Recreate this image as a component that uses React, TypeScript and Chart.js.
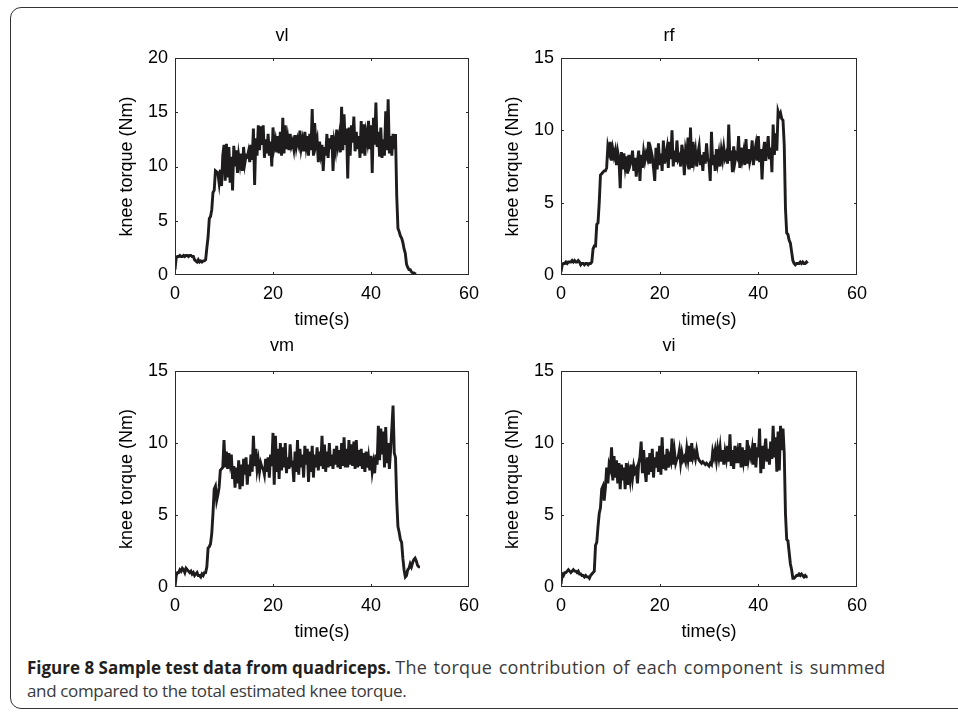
import React, { useEffect, useRef } from "react";
import { Chart, registerables } from "chart.js";

Chart.register(...registerables);

// sample spacing of the recorded torque traces (seconds)
const SAMPLE_STEP = 0.25;

const X_TICKS = [0, 20, 40, 60];
const Y_TICKS_VL = [0, 5, 10, 15, 20];
const Y_TICKS_OTHER = [0, 5, 10, 15];

const TITLES = ["vl", "rf", "vm", "vi"];
const X_LABEL = "time(s)";
const Y_LABEL = "knee torque (Nm)";

const VL = [
  0.5, 1.6, 1.7, 1.7, 1.8, 1.7, 1.7, 1.8, 1.7, 1.8, 1.8, 1.7, 1.8, 1.8, 1.7, 1.7,
  1.4, 1.3, 1.2, 1.4, 1.2, 1.3, 1.2, 1.3, 1.3, 1.4, 2.5, 3.5, 5.2, 5.4, 6.0, 7.6,
  7.8, 9.6, 9.5, 9.4, 8.5, 9.7, 8.2, 11.0, 12.0, 8.7, 12.1, 9.0, 11.8, 8.5, 10.9, 7.8,
  11.9, 10.0, 11.5, 9.4, 11.0, 10.2, 11.2, 9.6, 11.8, 10.3, 11.0, 10.9, 11.4, 10.4, 12.0, 10.6,
  13.5, 8.3, 12.6, 11.0, 13.8, 11.5, 13.7, 12.0, 13.8, 10.8, 12.5, 11.2, 13.0, 11.0, 12.3, 10.0,
  13.6, 11.8, 12.4, 11.3, 12.8, 11.2, 13.2, 11.0, 14.5, 11.2, 13.8, 11.6, 12.6, 11.5, 13.0, 11.9,
  12.3, 11.6, 12.9, 11.8, 12.5, 12.0, 13.3, 11.7, 12.4, 11.4, 13.2, 11.9, 12.8, 11.0, 13.0, 11.5,
  15.3, 11.0, 14.0, 12.0, 12.5, 10.4, 12.3, 11.2, 12.0, 9.6, 11.8, 11.0, 13.0, 10.8, 12.6, 11.6,
  12.9, 9.6, 12.2, 11.5, 13.4, 12.0, 12.8, 11.3, 15.5, 11.5, 14.8, 12.0, 13.5, 8.9, 13.6, 11.0,
  13.8, 12.2, 14.6, 11.4, 13.2, 11.6, 12.8, 10.8, 14.2, 11.2, 13.9, 11.0, 13.0, 12.3, 14.2, 11.6,
  13.8, 9.4, 14.5, 12.0, 15.9, 11.8, 13.2, 10.9, 13.6, 10.8, 12.5, 11.0, 15.1, 11.5, 16.2, 11.2,
  12.8, 11.0, 13.0, 11.6, 13.0, 7.3, 4.3, 4.0, 3.6, 3.4, 3.0, 2.4, 2.0, 1.0, 0.7, 0.5,
  0.5, 0.3, 0.2, 0.2, 0.1, 0.1,
];

const RF = [
  0.2, 0.7, 0.8, 0.8, 0.9, 0.8, 0.9, 0.9, 0.9, 1.0, 0.9, 1.0, 0.9, 0.9, 1.0, 0.9,
  0.7, 0.8, 0.8, 0.7, 0.8, 0.8, 0.7, 0.8, 0.8, 0.9, 1.8, 2.0, 2.0, 3.5, 3.6, 5.0,
  6.9, 7.0, 7.1, 7.2, 7.2, 7.4, 8.9, 8.5, 9.2, 7.9, 8.7, 8.2, 8.6, 7.6, 8.5, 8.0,
  6.0, 8.5, 7.3, 8.4, 7.5, 8.2, 7.0, 8.3, 7.6, 7.9, 8.6, 7.2, 8.1, 6.8, 7.8, 8.6,
  6.5, 8.3, 7.4, 8.5, 7.9, 8.4, 8.1, 9.2, 7.7, 8.6, 8.2, 7.4, 6.5, 8.8, 7.3, 9.1,
  7.6, 8.4, 7.2, 9.3, 7.7, 8.3, 8.8, 7.4, 9.2, 8.0, 10.0, 7.5, 8.6, 7.8, 9.3, 8.0,
  8.2, 7.5, 9.0, 8.4, 6.9, 8.6, 8.1, 9.5, 7.3, 10.2, 7.4, 9.2, 8.0, 8.6, 7.5, 8.4,
  8.9, 7.6, 8.3, 7.2, 8.5, 7.7, 9.1, 8.0, 7.8, 6.5, 9.9, 7.6, 8.3, 7.2, 8.7, 7.8,
  8.4, 7.5, 8.6, 8.0, 8.8, 8.1, 8.4, 7.7, 10.4, 7.9, 8.6, 7.1, 8.9, 7.8, 8.3, 8.1,
  9.6, 7.4, 8.8, 8.0, 8.5, 7.6, 9.4, 7.7, 8.7, 7.8, 8.2, 9.3, 7.6, 8.5, 9.0, 7.9,
  9.6, 7.8, 8.7, 6.6, 8.5, 9.2, 7.9, 8.6, 9.6, 8.0, 8.8, 7.1, 10.4, 8.3, 9.8, 8.6,
  11.3, 11.0, 11.2, 10.8, 10.7, 9.0, 4.6, 2.9, 2.8, 2.4, 2.2, 1.6, 1.0, 0.8, 0.7, 0.8,
  0.8, 0.8, 0.9, 0.8, 0.9, 0.8, 0.8, 0.9, 0.8,
];

const VM = [
  0.0, 0.8, 1.0, 1.0, 1.2, 1.1, 1.3, 1.2, 1.0, 1.3, 1.2, 1.1, 1.0, 1.1, 0.9, 1.0,
  0.8, 0.9, 1.0, 0.8, 0.8, 0.7, 0.9, 0.8, 1.0, 1.0, 1.4, 2.7, 2.8, 3.0, 3.7, 5.1,
  6.8, 7.0, 6.0, 6.4, 6.9, 8.1, 8.2, 8.3, 10.2, 8.3, 9.4, 8.2, 9.3, 8.6, 9.2, 7.5,
  8.4, 6.9, 8.3, 7.2, 8.8, 6.8, 8.5, 7.0, 8.9, 7.8, 9.0, 7.1, 8.5, 7.7, 9.2, 8.0,
  10.5, 8.4, 9.6, 8.2, 8.8, 8.0, 8.6, 8.3, 8.2, 7.8, 8.9, 8.0, 9.0, 7.6, 9.2, 8.4,
  10.7, 7.1, 10.5, 8.0, 9.6, 7.5, 10.0, 8.1, 9.7, 8.3, 10.0, 7.9, 9.0, 8.2, 9.9, 8.5,
  8.6, 7.3, 9.4, 8.0, 10.2, 7.8, 9.6, 8.3, 9.2, 7.6, 9.8, 8.5, 9.6, 7.3, 9.4, 8.0,
  9.8, 7.6, 9.2, 8.3, 9.7, 8.1, 9.4, 8.4, 10.5, 8.2, 9.9, 8.0, 9.4, 8.3, 10.0, 8.4,
  9.2, 8.2, 9.6, 8.5, 9.8, 8.3, 9.5, 8.2, 10.0, 8.4, 10.4, 8.3, 9.6, 8.3, 10.2, 8.5,
  9.9, 8.4, 10.1, 8.2, 10.2, 8.3, 9.5, 8.4, 9.6, 8.2, 9.3, 8.0, 9.4, 8.3, 9.0, 8.1,
  9.1, 8.0, 8.6, 7.9, 9.2, 8.5, 11.2, 8.8, 11.0, 9.2, 10.8, 8.3, 11.1, 8.6, 10.0, 8.2,
  9.5, 11.0, 12.6, 9.3, 9.0, 6.0, 4.2, 3.8, 3.3, 3.1, 2.0, 1.2, 0.7, 0.8, 1.2, 1.3,
  1.6, 1.4, 1.7, 1.9, 2.0, 1.8, 1.5, 1.4, 1.4,
];

const VI = [
  0.2, 0.9, 0.8, 1.0, 1.0, 1.1, 1.2, 1.1, 1.0, 1.1, 1.2, 1.1, 1.1, 1.0, 1.1, 0.9,
  0.9, 0.8, 0.8, 0.7, 0.8, 0.7, 0.7, 0.6, 0.8, 0.9, 1.0, 1.1, 2.9, 3.1, 4.2, 5.1,
  5.5, 6.8, 7.0, 6.0, 6.9, 8.3, 7.2, 8.5, 8.2, 9.7, 7.4, 9.1, 7.6, 8.8, 7.2, 8.6,
  6.8, 8.5, 7.4, 8.3, 6.8, 8.6, 7.1, 8.0, 7.4, 8.5, 7.6, 8.4, 8.0, 8.2, 7.2, 8.6,
  9.0, 10.1, 7.9, 9.5, 8.2, 7.3, 9.0, 7.8, 9.3, 8.0, 9.6, 7.6, 9.0, 8.3, 9.4, 8.0,
  9.8, 7.8, 10.4, 8.2, 9.2, 8.1, 9.6, 8.3, 9.0, 8.7, 10.3, 8.5, 9.4, 8.6, 8.9, 9.0,
  9.5, 8.6, 9.3, 8.8, 9.0, 8.7, 9.6, 8.9, 9.8, 8.7, 10.0, 9.0, 9.3, 8.9, 9.5, 9.0,
  8.8, 8.7, 8.6, 8.7, 8.6, 8.5, 8.6, 8.5, 8.4, 8.6, 8.5, 9.4, 9.0, 9.5, 8.8, 9.6,
  9.0, 9.7, 8.7, 9.5, 8.5, 9.4, 8.9, 9.8, 8.7, 10.6, 8.4, 9.5, 8.2, 9.8, 8.6, 9.3,
  8.6, 10.0, 8.3, 9.7, 8.8, 9.5, 8.4, 10.2, 8.9, 9.4, 9.0, 9.6, 8.5, 10.0, 8.3, 9.7,
  9.0, 11.0, 7.9, 9.8, 8.2, 9.5, 10.3, 8.7, 9.6, 8.5, 10.1, 8.9, 11.2, 9.0, 10.4, 8.0,
  10.8, 8.1, 11.2, 9.5, 11.0, 9.3, 5.1, 3.3, 3.2, 2.4, 1.6, 1.2, 0.6, 0.6, 0.7, 0.8,
  0.8, 0.9, 0.8, 0.9, 0.8, 0.7, 0.8, 0.7, 0.7,
];

const FONT_FAMILY = "'Liberation Sans', Arial, Helvetica, sans-serif";

const boxPlugin = {
  id: "matlabBox",
  afterDatasetsDraw(chart: any) {
    const { ctx, chartArea, scales } = chart;
    const { left, right, top, bottom } = chartArea;
    ctx.save();
    ctx.strokeStyle = "#2a2a2a";
    ctx.lineWidth = 1;
    ctx.strokeRect(left + 0.5, top + 0.5, right - left - 1, bottom - top - 1);
    const len = 3;
    ctx.beginPath();
    for (const t of scales.x.ticks) {
      const px = Math.round(scales.x.getPixelForValue(t.value)) + 0.5;
      if (px <= left + 1 || px >= right - 1) continue;
      ctx.moveTo(px, bottom);
      ctx.lineTo(px, bottom - len);
      ctx.moveTo(px, top);
      ctx.lineTo(px, top + len);
    }
    for (const t of scales.y.ticks) {
      const py = Math.round(scales.y.getPixelForValue(t.value)) + 0.5;
      if (py <= top + 1 || py >= bottom - 1) continue;
      ctx.moveTo(left, py);
      ctx.lineTo(left + len, py);
      ctx.moveTo(right, py);
      ctx.lineTo(right - len, py);
    }
    ctx.stroke();
    ctx.restore();
  },
};

type PanelProps = {
  title: string;
  values: number[];
  yTicks: number[];
  left: number;
  top: number;
  width: number;
  height: number;
  padRight: number;
  titlePadTop: number;
  titlePadBottom: number;
};

function Panel(p: PanelProps) {
  const ref = useRef<HTMLCanvasElement | null>(null);
  useEffect(() => {
    if (!ref.current) return;
    const font = { family: FONT_FAMILY, size: 18, weight: "normal" as const };
    const points = p.values.map((v, i) => ({ x: i * SAMPLE_STEP, y: v }));
    const yMax = p.yTicks[p.yTicks.length - 1];
    const chart = new Chart(ref.current, {
      type: "line",
      data: {
        datasets: [
          {
            data: points,
            borderColor: "#1e1c1d",
            borderWidth: 2.9,
            pointRadius: 0,
            fill: false,
            tension: 0,
          },
        ],
      },
      options: {
        responsive: false,
        animation: false,
        devicePixelRatio: 1,
        layout: { padding: { left: 0, right: p.padRight, top: 0, bottom: 0 } },
        plugins: {
          legend: { display: false },
          tooltip: { enabled: false },
          title: {
            display: true,
            text: p.title,
            color: "#000",
            font,
            padding: { top: p.titlePadTop, bottom: p.titlePadBottom },
          },
        },
        scales: {
          x: {
            type: "linear",
            min: X_TICKS[0],
            max: X_TICKS[X_TICKS.length - 1],
            afterBuildTicks: (s: any) => {
              s.ticks = X_TICKS.map((v) => ({ value: v }));
            },
            ticks: { color: "#000", font, padding: 8, maxRotation: 0, autoSkip: false },
            grid: { display: false, drawTicks: false },
            border: { display: false },
            title: {
              display: true,
              text: X_LABEL,
              color: "#000",
              font,
              padding: { top: 0, bottom: 0.5 },
            },
            afterFit: (s: any) => {
              s.height = 56;
            },
          },
          y: {
            type: "linear",
            min: 0,
            max: yMax,
            afterBuildTicks: (s: any) => {
              s.ticks = p.yTicks.map((v) => ({ value: v }));
            },
            ticks: { color: "#000", font, padding: 7, autoSkip: false },
            grid: { display: false, drawTicks: false },
            border: { display: false },
            title: {
              display: true,
              text: Y_LABEL,
              color: "#000",
              font,
              padding: { top: 21.2, bottom: 0 },
            },
            afterFit: (s: any) => {
              s.width = 80;
            },
          },
        },
      },
      plugins: [boxPlugin],
    } as any);
    return () => chart.destroy();
  }, []);
  return (
    <canvas
      ref={ref}
      width={p.width}
      height={p.height}
      style={{ position: "absolute", left: p.left, top: p.top, width: p.width, height: p.height }}
    />
  );
}

export default function App() {
  const captionFont: React.CSSProperties = {
    position: "absolute",
    left: 27,
    fontFamily: "'Open Sans', 'Noto Sans', sans-serif",
    fontSize: 17,
    lineHeight: "23px",
    color: "#3a3a3a",
    whiteSpace: "nowrap",
  };
  return (
    <div
      style={{
        position: "absolute",
        left: 0,
        top: 0,
        width: 958,
        height: 713,
        overflow: "hidden",
        background: "#fff",
      }}
    >
      <div
        style={{
          position: "absolute",
          left: 10,
          top: 7,
          width: 970,
          height: 702,
          border: "1.5px solid #333",
          borderRadius: 11,
          boxSizing: "border-box",
        }}
      />
      <Panel title={TITLES[0]} values={VL} yTicks={Y_TICKS_VL} left={95} top={15} width={395} height={316} padRight={21} titlePadTop={10.7} titlePadBottom={10.7} />
      <Panel title={TITLES[1]} values={RF} yTicks={Y_TICKS_OTHER} left={481} top={15} width={395} height={316} padRight={19} titlePadTop={10.7} titlePadBottom={10.7} />
      <Panel title={TITLES[2]} values={VM} yTicks={Y_TICKS_OTHER} left={95} top={328} width={395} height={315} padRight={21} titlePadTop={7.7} titlePadBottom={13.7} />
      <Panel title={TITLES[3]} values={VI} yTicks={Y_TICKS_OTHER} left={481} top={328} width={395} height={315} padRight={19} titlePadTop={7.7} titlePadBottom={13.7} />
      <div style={{ ...captionFont, top: 656 }}>
        <span style={{ fontWeight: "bold", color: "#231f20" }}>Figure 8 Sample test data from quadriceps.</span>{" "}
        <span style={{ fontSize: 18, letterSpacing: "0.3px", wordSpacing: "1.5px" }}>The torque contribution of each component is summed</span>
      </div>
      <div style={{ ...captionFont, top: 679, letterSpacing: "-0.35px" }}>
        and compared to the total estimated knee torque.
      </div>
    </div>
  );
}
